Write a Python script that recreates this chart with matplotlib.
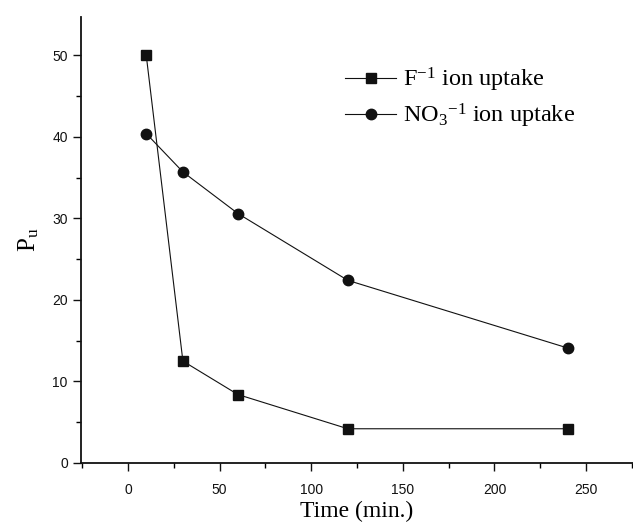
import matplotlib
matplotlib.use("Agg")
import matplotlib.pyplot as plt
from matplotlib.ticker import MultipleLocator

time_f = [10, 30, 60, 120, 240]
pu_f = [50.0, 12.5, 8.4, 4.2, 4.2]
time_no3 = [10, 30, 60, 120, 240]
pu_no3 = [40.4, 35.7, 30.6, 22.4, 14.1]
label_f = "F$^{\\mathregular{-1}}$ ion uptake"
label_no3 = "NO$_{\\mathregular{3}}$$^{\\mathregular{-1}}$ ion uptake"
xticks = [0, 50, 100, 150, 200, 250]
yticks = [0, 10, 20, 30, 40, 50]

plt.rcParams['mathtext.fontset'] = 'custom'
plt.rcParams['mathtext.rm'] = 'Liberation Serif'
plt.rcParams['mathtext.it'] = 'Liberation Serif:italic'

fig = plt.figure(figsize=(6.33, 5.22), dpi=100)
ax = fig.add_axes([81/633, 59/522, 552/633, 446/522])

ax.plot(time_f, pu_f, color='#111111', lw=0.8, marker='s', ms=6.5,
        label=label_f)
ax.plot(time_no3, pu_no3, color='#111111', lw=0.8, marker='o', ms=7.5,
        label=label_no3)

ax.set_xlim(-25.6, 275.6)
ax.set_ylim(0, 54.7)
ax.set_xticks(xticks)
ax.set_yticks(yticks)
ax.xaxis.set_minor_locator(MultipleLocator(25))
ax.yaxis.set_minor_locator(MultipleLocator(5))
ax.tick_params(which='major', direction='out', length=5.5, width=1,
               labelsize=10, colors='#111111')
ax.tick_params(axis='x', which='major', pad=9)
ax.tick_params(axis='y', which='major', pad=4)
ax.tick_params(which='minor', direction='out', length=3.5, width=1)
for lab in ax.get_xticklabels() + ax.get_yticklabels():
    lab.set_family('Liberation Sans')

for s in ['top', 'right']:
    ax.spines[s].set_visible(False)
for s in ['left', 'bottom']:
    ax.spines[s].set_linewidth(1.3)
    ax.spines[s].set_color('#111111')

ax.set_xlabel("Time (min.)", family='Liberation Serif', fontsize=17, labelpad=3)
ax.set_ylabel("P$_{\\mathregular{u}}$", family='Liberation Serif', fontsize=18, labelpad=8)

leg = ax.legend(loc='upper left', bbox_to_anchor=(345/633, 1 - 66/522),
                bbox_transform=fig.transFigure, frameon=False,
                prop={'family': 'Liberation Serif', 'size': 17.5},
                handlelength=2.1, handletextpad=0.3, labelspacing=0.3,
                borderpad=0, borderaxespad=0)

fig.savefig("out.png", dpi=100)
